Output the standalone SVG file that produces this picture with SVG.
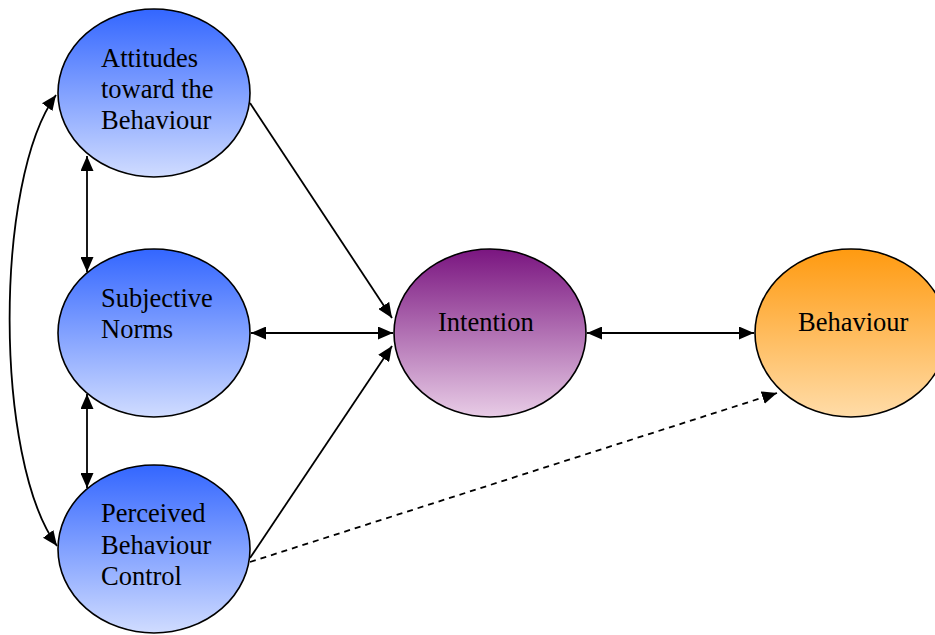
<svg xmlns="http://www.w3.org/2000/svg" width="935" height="635" viewBox="0 0 935 635">
<style>
.node{stroke:#000;stroke-width:1.6}
.lbl{font-family:"Liberation Serif","Times New Roman",serif;font-size:26.5px;fill:#000}
.con{fill:none;stroke:#000;stroke-width:1.8}
.dash{stroke-dasharray:6,5}
</style>
<defs>
<linearGradient id="gBlue" x1="0" y1="0" x2="0" y2="1">
<stop offset="0" stop-color="#3366FF"/><stop offset="1" stop-color="#D0DCFF"/>
</linearGradient>
<linearGradient id="gPurple" x1="0" y1="0" x2="0" y2="1">
<stop offset="0" stop-color="#7A1580"/><stop offset="1" stop-color="#E8CCE6"/>
</linearGradient>
<linearGradient id="gOrange" x1="0" y1="0" x2="0" y2="1">
<stop offset="0" stop-color="#FF9A10"/><stop offset="1" stop-color="#FFDCA8"/>
</linearGradient>
<marker id="ah" viewBox="0 0 15 13" refX="15" refY="6.5" markerWidth="15" markerHeight="13" markerUnits="userSpaceOnUse" orient="auto-start-reverse">
<path d="M0,0 L15,6.5 L0,13 z" fill="#000"/>
</marker>
</defs>
<g id="connectors">
<path class="con" d="M87,156 L87,272" marker-start="url(#ah)" marker-end="url(#ah)"/>
<path class="con" d="M87,394 L87,488" marker-start="url(#ah)" marker-end="url(#ah)"/>
<path class="con" d="M56,95 C-6,180 -6,460 57,546" marker-start="url(#ah)" marker-end="url(#ah)"/>
<path class="con" d="M250,103 L392,318" marker-end="url(#ah)"/>
<path class="con" d="M251,333 L393,333" marker-start="url(#ah)" marker-end="url(#ah)"/>
<path class="con" d="M250,558 L392,346" marker-end="url(#ah)"/>
<path class="con" d="M587,333 L754,333" marker-start="url(#ah)" marker-end="url(#ah)"/>
<path class="con dash" d="M250,562 L777,393" marker-end="url(#ah)"/>
</g>
<g id="attitudes">
<ellipse class="node" cx="154" cy="93" rx="96" ry="84" fill="url(#gBlue)"/>
<text class="lbl" x="101" y="67">Attitudes</text>
<text class="lbl" x="101" y="98">toward the</text>
<text class="lbl" x="101" y="129">Behaviour</text>
</g>
<g id="norms">
<ellipse class="node" cx="154" cy="333" rx="96" ry="84" fill="url(#gBlue)"/>
<text class="lbl" x="101" y="307">Subjective</text>
<text class="lbl" x="101" y="338">Norms</text>
</g>
<g id="control">
<ellipse class="node" cx="154" cy="549" rx="96" ry="84" fill="url(#gBlue)"/>
<text class="lbl" x="101" y="522">Perceived</text>
<text class="lbl" x="101" y="554">Behaviour</text>
<text class="lbl" x="101" y="585">Control</text>
</g>
<g id="intention">
<ellipse class="node" cx="490" cy="333" rx="96" ry="84" fill="url(#gPurple)"/>
<text class="lbl" x="438" y="331">Intention</text>
</g>
<g id="behaviour">
<ellipse class="node" cx="851" cy="333" rx="96" ry="84" fill="url(#gOrange)"/>
<text class="lbl" x="798" y="331">Behaviour</text>
</g>
</svg>
